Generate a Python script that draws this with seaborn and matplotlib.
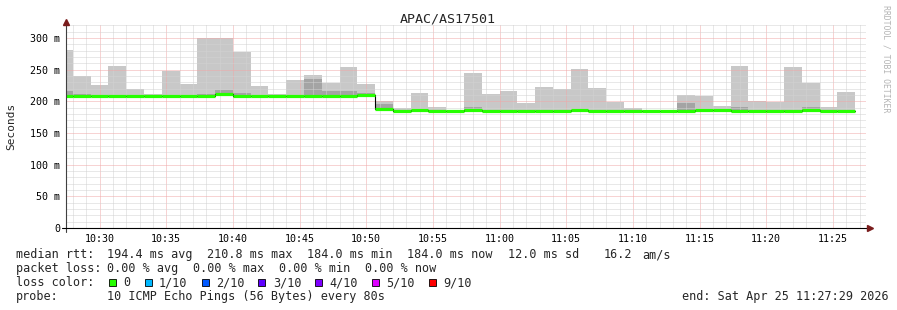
import numpy as np
import pandas as pd
import matplotlib
matplotlib.use("Agg")
import matplotlib.pyplot as plt
import matplotlib.dates as mdates
from matplotlib.ticker import MultipleLocator
from matplotlib.lines import Line2D
from matplotlib.patches import Rectangle
import seaborn as sns

# ---------------- data ----------------
title = "APAC/AS17501"
window_start = "2026-04-25 10:27:29"
window_end = "2026-04-25 11:27:29"
first_step = "2026-04-25 10:26:40"
step_seconds = 80

# median rtt per 80 s step (ms)
median = [208.0, 208.0, 208.0, 208.0, 208.0, 208.5, 208.0, 208.0, 208.5, 210.8,
          208.0, 208.0, 208.0, 208.0, 208.5, 208.0, 208.5, 209.5, 188.5, 184.0,
          185.5, 184.0, 184.0, 185.5, 184.0, 184.0, 184.0, 184.0, 184.5, 185.5,
          185.0, 184.0, 184.0, 184.0, 184.0, 184.5, 186.0, 186.0, 185.0, 185.0,
          184.0, 184.5, 185.5, 184.5, 184.0]
# highest ping of each step (top of smoke)
smoke_top = [281, 240, 226, 256, 220, 212, 248, 227, 300, 300,
             278, 224, 212, 234, 242, 229, 254, 227, 200.5, 189.5,
             213, 191, 185.5, 245, 211.5, 216, 198, 222.5, 219.5, 251,
             221, 198.5, 189.5, 186.5, 185, 210, 209, 193, 256, 201,
             199.5, 254.5, 229, 191, 214.5]
# upper edge of the dense (darker) part of the smoke
smoke_dark = [216, 212, 210, 210, 210, 210, 209, 209, 211.5, 218,
              213, 210, 210, 209, 235, 216, 216, 213, 195, 184.5,
              186, 185, 184, 191, 185, 185, 184, 185, 185, 187,
              186, 185, 184.5, 184.5, 184, 198, 186.5, 186.5, 191, 186,
              185, 187, 191, 186, 185]
# lowest ping of each step
smoke_low = [206.5, 206.5, 206.5, 206.5, 206.5, 207, 206.5, 206.5, 205.5, 208,
             205.5, 206.5, 206.5, 206.5, 206.5, 206.5, 207, 208, 187, 182.5,
             183.5, 182.5, 182.5, 183.5, 182.5, 182.5, 182.5, 182.5, 183, 183.5,
             183.5, 182.5, 182.5, 182.5, 182.5, 183, 184, 184, 183.5, 183.5,
             182.5, 183, 183.5, 183, 182.5]

y_ticks = [0, 50, 100, 150, 200, 250, 300]
y_tick_labels = ["0", "50 m", "100 m", "150 m", "200 m", "250 m", "300 m"]
y_label = "Seconds"

rtt_label = "median rtt:"
rtt_stats = ["194.4 ms avg", "210.8 ms max", "184.0 ms min", "184.0 ms now",
             "12.0 ms sd", "16.2", "am/s"]
loss_label = "packet loss:"
loss_stats = ["0.00 % avg", "0.00 % max", "0.00 % min", "0.00 % now"]
color_label = "loss color:"
loss_levels = ["0", "1/10", "2/10", "3/10", "4/10", "5/10", "9/10"]
loss_colors = ["#26ff00", "#00b8ff", "#0059ff", "#5e00ff", "#7e00ff", "#dd00ff", "#ff0000"]
probe_label = "probe:"
probe_text = "10 ICMP Echo Pings (56 Bytes) every 80s"
end_text = "end: Sat Apr 25 11:27:29 2026"
watermark = "RRDTOOL / TOBI OETIKER"

# ---------------- style ----------------
sns.set_theme(style="white")
plt.rcParams["font.family"] = ["DejaVu Sans Mono", "DejaVu Sans"]

W, H = 897, 310
fig = plt.figure(figsize=(W / 100, H / 100), dpi=100)
fig.patch.set_facecolor("white")


def fx(x):
    return x / W


def fy(y):
    return 1 - y / H


AX_L, AX_R, AX_B, AX_T = 66, 866, 228, 25.3
ax = fig.add_axes([fx(AX_L), fy(AX_B), (AX_R - AX_L) / W, (AX_B - AX_T) / H])
ax.set_facecolor("white")

edges = pd.date_range(first_step, periods=len(median) + 1, freq=f"{step_seconds}s")
med_ext = median + [median[-1]]
top_ext = smoke_top + [smoke_top[-1]]
dark_ext = smoke_dark + [smoke_dark[-1]]
low_ext = smoke_low + [smoke_low[-1]]

ax.fill_between(edges, low_ext, top_ext, step="post", color="#c8c8c8", lw=0, zorder=1)
ax.fill_between(edges, med_ext, dark_ext, step="post", color="#a4a4a4", lw=0, zorder=1.1)

df = pd.DataFrame({"time": edges, "median": med_ext})
sns.lineplot(data=df, x="time", y="median", ax=ax, drawstyle="steps-post",
             color="black", lw=0.8, zorder=3, estimator=None)
ax.hlines(median, edges[:-1], edges[1:], colors=loss_colors[0], lw=2.3, zorder=4)

ax.set_xlim(pd.Timestamp(window_start), pd.Timestamp(window_end))
ax.set_ylim(0, 320)
ax.set_yticks(y_ticks)
ax.set_yticklabels(y_tick_labels)
ax.yaxis.set_minor_locator(MultipleLocator(10))
ax.xaxis.set_major_locator(mdates.MinuteLocator(byminute=range(0, 60, 5)))
ax.xaxis.set_major_formatter(mdates.DateFormatter("%H:%M"))
ax.xaxis.set_minor_locator(mdates.MinuteLocator())
ax.set_xlabel("")
ax.set_ylabel("")

ax.set_axisbelow(False)
ax.grid(which="minor", color="#d2d2d2", ls=(0, (1, 1)), lw=0.72, zorder=2.5)
ax.grid(which="major", color="#f0a8a8", ls=(0, (1, 1)), lw=0.72, zorder=2.6)
ax.tick_params(axis="both", which="both", length=0, labelsize=7.2, colors="black")
ax.tick_params(axis="x", pad=4.2)
ax.tick_params(axis="y", pad=4.2)
for s in ax.spines.values():
    s.set_visible(False)

# axes lines with arrows
fig.add_artist(Line2D([fx(AX_L), fx(AX_L)], [fy(232), fy(24)], transform=fig.transFigure,
                      color="#404040", lw=0.8))
fig.add_artist(Line2D([fx(62), fx(868)], [fy(AX_B), fy(AX_B)], transform=fig.transFigure,
                      color="black", lw=0.8))
fig.add_artist(Line2D([fx(AX_L)], [fy(22)], transform=fig.transFigure, marker="^",
                      markersize=4.5, color="#7a1c1c", lw=0))
fig.add_artist(Line2D([fx(870)], [fy(AX_B)], transform=fig.transFigure, marker=">",
                      markersize=4.5, color="#7a1c1c", lw=0))

# titles
fig.text(fx(448), fy(19), title, ha="center", va="center", fontsize=9.6)
fig.text(fx(11), fy(126), y_label, rotation=90, ha="center", va="center", fontsize=8)
fig.text(fx(886), fy(59), watermark, rotation=270, ha="center", va="center",
         fontsize=5.9, color="#b4b4b4")

# legend block
FS = 8.5
CW = 7.1
fig.text(fx(16), fy(254.5), rtt_label, ha="left", va="center", fontsize=FS)
for x, s in zip([107.3, 207.3, 307.3, 407.3, 507.7, 603.3, 642.3], rtt_stats):
    fig.text(fx(x), fy(254.5), s, ha="left", va="center", fontsize=FS)

fig.text(fx(16), fy(268.3), loss_label, ha="left", va="center", fontsize=FS)
for x, s in zip([107.3, 193.3, 279.3, 365.3], loss_stats):
    fig.text(fx(x), fy(268.3), s, ha="left", va="center", fontsize=FS)

fig.text(fx(16), fy(282.7), color_label, ha="left", va="center", fontsize=FS)
sx = 109
for lvl, col in zip(loss_levels, loss_colors):
    fig.add_artist(Rectangle((fx(sx), fy(286)), 7 / W, 7 / H, transform=fig.transFigure,
                             facecolor=col, edgecolor="black", lw=0.6))
    tx = sx + 14.3
    fig.text(fx(tx), fy(282.7), lvl, ha="left", va="center", fontsize=FS)
    sx = tx + (len(lvl) + 2) * CW

fig.text(fx(16), fy(296.3), probe_label, ha="left", va="center", fontsize=FS)
fig.text(fx(107.3), fy(296.3), probe_text, ha="left", va="center", fontsize=FS)
fig.text(fx(889), fy(296.3), end_text, ha="right", va="center", fontsize=FS)

fig.savefig("out.png", dpi=100, facecolor="white")
